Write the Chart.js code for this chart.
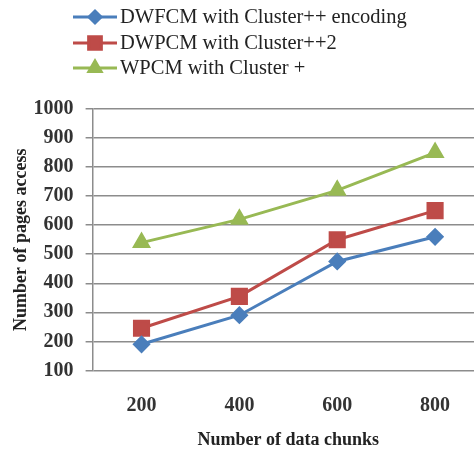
<!DOCTYPE html>
<html>
<head>
<meta charset="utf-8">
<script src="https://cdn.jsdelivr.net/npm/chart.js@4"></script>
<style>
    html, body { margin: 0; padding: 0; background: #fff; overflow: hidden; }
    canvas { display: block; }
</style>
</head>
<body>
<canvas id="chart" width="497" height="451"></canvas>
<script>
// values
const chunks = ["200", "400", "600", "800"];
const seriesNames = ["DWFCM with Cluster++ encoding", "DWPCM with Cluster++2", "WPCM with Cluster +"];
const dwfcm = [190, 290, 475, 560];
const dwpcm = [245, 355, 550, 650];
const wpcm = [540, 620, 720, 850];
const yTicks = [100, 200, 300, 400, 500, 600, 700, 800, 900, 1000];

const serif = "'Liberation Serif', 'Times New Roman', serif";

// legend drawn by hand: line with the marker in the middle, like the original
const lineLegend = {
    id: "lineLegend",
    afterDraw(chart) {
        const ctx = chart.ctx;
        const rows = [17, 43, 68];
        ctx.save();
        chart.data.datasets.forEach((ds, i) => {
            const y = rows[i];
            ctx.strokeStyle = ds.borderColor;
            ctx.lineWidth = 3;
            ctx.beginPath();
            ctx.moveTo(73, y);
            ctx.lineTo(117, y);
            ctx.stroke();
            ctx.fillStyle = ds.pointBackgroundColor;
            ctx.strokeStyle = ds.pointBackgroundColor;
            Chart.helpers.drawPoint(ctx, {
                pointStyle: ds.pointStyle,
                radius: ds.pointRadius - 1,
                rotation: 0,
                borderWidth: 1
            }, 95, y);
            ctx.fillStyle = "#222";
            ctx.font = "20.5px " + serif;
            ctx.textBaseline = "middle";
            ctx.textAlign = "left";
            ctx.fillText(ds.label, 120, y + 1);
        });
        ctx.restore();
    }
};

const ctx = document.getElementById("chart").getContext("2d");
new Chart(ctx, {
    type: "line",
    data: {
        labels: chunks,
        datasets: [
            {
                label: seriesNames[0],
                data: dwfcm,
                borderColor: "#4a7ebb",
                backgroundColor: "#4a7ebb",
                pointBackgroundColor: "#4a7ebb",
                pointBorderColor: "#4a7ebb",
                pointStyle: "rectRot",
                pointRadius: 7,
                borderWidth: 3
            },
            {
                label: seriesNames[1],
                data: dwpcm,
                borderColor: "#be4b48",
                backgroundColor: "#be4b48",
                pointBackgroundColor: "#be4b48",
                pointBorderColor: "#be4b48",
                pointStyle: "rect",
                pointRadius: 10,
                borderWidth: 3
            },
            {
                label: seriesNames[2],
                data: wpcm,
                borderColor: "#98b954",
                backgroundColor: "#98b954",
                pointBackgroundColor: "#98b954",
                pointBorderColor: "#98b954",
                pointStyle: "triangle",
                pointRadius: 8,
                borderWidth: 3
            }
        ]
    },
    options: {
        responsive: false,
        animation: false,
        layout: {
            padding: { top: 109, right: 9, left: 11, bottom: 0 }
        },
        plugins: {
            legend: { display: false },
            tooltip: { enabled: false }
        },
        scales: {
            x: {
                offset: true,
                grid: { display: false, drawTicks: false },
                border: { display: false },
                ticks: {
                    color: "#333",
                    padding: 23,
                    font: { family: serif, size: 20, weight: "bold" }
                },
                title: {
                    display: true,
                    text: "Number of data chunks",
                    color: "#222",
                    padding: { top: -11, bottom: 0 },
                    font: { family: serif, size: 18, weight: "bold" }
                }
            },
            y: {
                min: 100,
                max: 1000,
                afterBuildTicks(axis) {
                    axis.ticks = yTicks.map(v => ({ value: v }));
                },
                grid: {
                    color: "#8c8c8c",
                    lineWidth: 1.5,
                    tickLength: 7
                },
                border: { color: "#8c8c8c", width: 1.5 },
                ticks: {
                    color: "#333",
                    padding: 12,
                    callback: v => String(v),
                    font: { family: serif, size: 20, weight: "bold" }
                },
                title: {
                    display: true,
                    text: "Number of pages access",
                    color: "#222",
                    padding: { top: 0, bottom: -11 },
                    font: { family: serif, size: 18, weight: "bold" }
                }
            }
        }
    },
    plugins: [lineLegend]
});
</script>
</body>
</html>
